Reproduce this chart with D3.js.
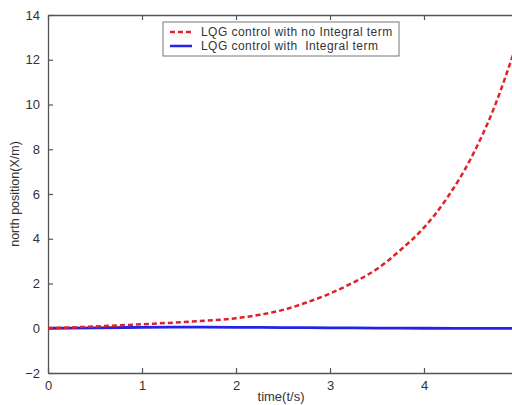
<!DOCTYPE html>
<html>
<head>
<meta charset="utf-8">
<script src="https://cdn.jsdelivr.net/npm/d3@7"></script>
<style>
  body { margin: 0; background: #fff; overflow: hidden; }
  svg { display: block; font-family: "Liberation Sans", Arial, sans-serif; }
</style>
</head>
<body>
<div id="chart"></div>
<script>
// values
const timeNoInt = [0, 0.5, 1, 1.5, 2, 2.25, 2.5, 2.75, 3, 3.25, 3.5, 3.75, 4, 4.25, 4.5, 4.75, 5];
const northNoInt = [0, 0.08, 0.18, 0.29, 0.45, 0.6, 0.82, 1.15, 1.55, 2.05, 2.65, 3.5, 4.5, 5.85, 7.6, 9.9, 12.9];
const timeInt = [0, 0.5, 1, 1.5, 2, 2.5, 3, 3.5, 4, 4.5, 5];
const northInt = [0, 0.02, 0.04, 0.05, 0.04, 0.03, 0.02, 0.01, 0, -0.01, -0.01];
const xTicks = [0, 1, 2, 3, 4, 5];
const xTickLabels = [0, 1, 2, 3, 4];
const yTicks = [-2, 0, 2, 4, 6, 8, 10, 12, 14];
const legendLabels = ["LQG control with no Integral term", "LQG control with  Integral term"];

const width = 512, height = 405;
const margin = { top: 15, right: -6, bottom: 32, left: 48 };

const svg = d3.select("#chart").append("svg")
    .attr("width", width)
    .attr("height", height);

const x = d3.scaleLinear().domain([0, 5]).range([margin.left, width - margin.right]);
const y = d3.scaleLinear().domain([-2, 14]).range([height - margin.bottom, margin.top]);

const axisColor = "#555";
const textColor = "#333";

// axes (MATLAB style box, ticks pointing in)
function styleAxis(g) {
    g.select(".domain").attr("stroke", axisColor).attr("stroke-width", 1.3);
    g.selectAll(".tick line").attr("stroke", axisColor).attr("stroke-width", 1.2);
    g.selectAll(".tick text").attr("fill", textColor).attr("font-size", "13px")
        .attr("font-family", "Liberation Sans, Arial, sans-serif");
}

// bottom: tick marks for the whole range, labels only where they fit
svg.append("g")
    .attr("transform", `translate(0,${y(-2)})`)
    .call(d3.axisBottom(x).tickValues(xTicks).tickFormat("").tickSizeInner(-5).tickSizeOuter(0))
    .call(styleAxis);
svg.append("g")
    .attr("transform", `translate(0,${y(-2)})`)
    .call(d3.axisBottom(x).tickValues(xTickLabels).tickFormat(d3.format("d")).tickSize(0).tickPadding(8))
    .call(styleAxis)
    .call(g => g.select(".domain").remove());

svg.append("g")
    .attr("transform", `translate(0,${y(14)})`)
    .call(d3.axisTop(x).tickValues(xTicks).tickFormat("").tickSizeInner(-5).tickSizeOuter(0))
    .call(styleAxis);

svg.append("g")
    .attr("transform", `translate(${x(0)},0)`)
    .call(d3.axisLeft(y).tickValues(yTicks).tickFormat(d3.format("d")).tickSizeInner(-5).tickSizeOuter(0).tickPadding(8))
    .call(styleAxis);

svg.append("g")
    .attr("transform", `translate(${x(5)},0)`)
    .call(d3.axisRight(y).tickValues(yTicks).tickFormat("").tickSizeInner(-5).tickSizeOuter(0))
    .call(styleAxis);

// lines
const line = d3.line()
    .x(d => x(d[0]))
    .y(d => y(d[1]))
    .curve(d3.curveMonotoneX);

svg.append("path")
    .datum(timeInt.map((t, i) => [t, northInt[i]]))
    .attr("fill", "none")
    .attr("stroke", "#2424e6")
    .attr("stroke-width", 2.8)
    .attr("d", line);

svg.append("path")
    .datum(timeNoInt.map((t, i) => [t, northNoInt[i]]))
    .attr("fill", "none")
    .attr("stroke", "#e0202a")
    .attr("stroke-width", 2.5)
    .attr("stroke-dasharray", "5,3")
    .attr("d", line);

// axis labels
svg.append("text")
    .attr("x", 281)
    .attr("y", 401)
    .attr("text-anchor", "middle")
    .attr("font-size", "13px")
    .attr("fill", textColor)
    .text("time(t/s)");

svg.append("text")
    .attr("transform", `translate(19,${(y(14) + y(-2)) / 2}) rotate(-90)`)
    .attr("text-anchor", "middle")
    .attr("font-size", "12.5px")
    .attr("fill", textColor)
    .text("north position(X/m)");

// legend
const legend = svg.append("g").attr("transform", "translate(163,22)");
legend.append("rect")
    .attr("width", 236)
    .attr("height", 34)
    .attr("fill", "#fff")
    .attr("stroke", "#777")
    .attr("stroke-width", 1);

const legendStyles = [
    { color: "#e0202a", dash: "5,3" },
    { color: "#2424e6", dash: null }
];
legendLabels.forEach((lab, i) => {
    const ly = 10 + i * 14;
    legend.append("line")
        .attr("x1", 7).attr("x2", 29)
        .attr("y1", ly).attr("y2", ly)
        .attr("stroke", legendStyles[i].color)
        .attr("stroke-width", 2.5)
        .attr("stroke-dasharray", legendStyles[i].dash);
    legend.append("text")
        .attr("x", 38)
        .attr("y", ly + 4.2)
        .attr("font-size", "12px")
        .attr("letter-spacing", "0.45px")
        .attr("fill", textColor)
        .style("white-space", "pre")
        .text(lab);
});
</script>
</body>
</html>
